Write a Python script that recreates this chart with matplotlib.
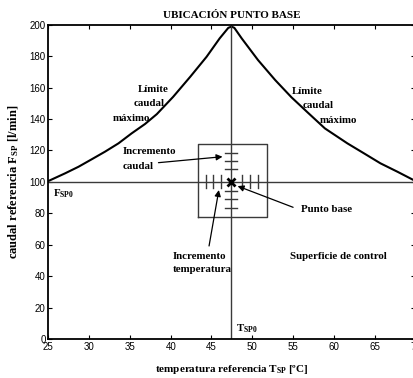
import matplotlib
matplotlib.use("Agg")
import matplotlib.pyplot as plt

plt.rcParams['mathtext.fontset'] = 'custom'
plt.rcParams['mathtext.rm'] = 'Liberation Serif:bold'
plt.rcParams['mathtext.bf'] = 'Liberation Serif:bold'
plt.rcParams['mathtext.it'] = 'Liberation Serif:bold'

# Data
curve_x = [25.0, 27.05, 28.7, 30.3, 31.95, 33.6, 35.2, 36.85, 38.3, 40.3, 42.4, 44.4, 46.0, 47.06,
           47.45,
           47.8, 48.7, 50.7, 52.8, 54.8, 56.9, 58.9, 61.65, 63.7, 65.7, 67.8, 70.0]
curve_y = [100.5, 105.4, 109.6, 114.3, 119.2, 124.5, 130.8, 136.8, 143.1, 154.1, 166.9, 179.6, 191.3, 198.0,
           198.8,
           198.0, 191.3, 177.5, 164.8, 153.8, 143.6, 134.0, 124.5, 118.1, 111.8, 106.4, 100.5]
base_T = 47.4
base_F = 100.0
box_x = [43.3, 51.8]
box_y = [77.4, 123.9]
temp_steps = [-3.1, -2.2, -1.25, 1.3, 2.3, 3.3]
flow_steps = [18.1, 13.2, 7.9, -5.7, -11.1, -16.5]
x_ticks = [25, 30, 35, 40, 45, 50, 55, 60, 65, 70]
y_ticks = [0, 20, 40, 60, 80, 100, 120, 140, 160, 180, 200]

W, H = 414, 378
fig = plt.figure(figsize=(W / 100, H / 100), dpi=100)
left, right, top, bottom = 48.3, 415.5, 24.7, 339.0
ax = fig.add_axes([left / W, 1 - bottom / H, (right - left) / W, (bottom - top) / H])

serif = 'Liberation Serif'
tfs = 7.8

ax.plot(curve_x, curve_y, color='black', lw=1.5, solid_joinstyle='round')

gray = '#3a3a3a'
ax.plot([25, 70], [base_F, base_F], color=gray, lw=1.0)
ax.plot([base_T, base_T], [0, 200], color=gray, lw=1.0)
ax.plot([box_x[0], box_x[1], box_x[1], box_x[0], box_x[0]],
        [box_y[0], box_y[0], box_y[1], box_y[1], box_y[0]], color=gray, lw=1.0)
for d in temp_steps:
    ax.plot([base_T + d, base_T + d], [base_F - 4.2, base_F + 4.2], color=gray, lw=1.0)
for d in flow_steps:
    ax.plot([base_T - 0.7, base_T + 0.7], [base_F + d, base_F + d], color=gray, lw=1.0)
ax.plot([base_T], [base_F], marker='x', color='black', ms=6, mew=2.0)

ax.set_xlim(25, 70)
ax.set_ylim(0, 200)
ax.set_xticks(x_ticks)
ax.set_yticks(y_ticks)
ax.tick_params(direction='in', length=3, width=0.8, top=True, right=True,
               labelsize=7, pad=2, colors='black')
for lab in ax.get_xticklabels() + ax.get_yticklabels():
    lab.set_fontfamily('Liberation Sans')
for s in ax.spines.values():
    s.set_linewidth(1.3)

ax.set_title('UBICACIÓN PUNTO BASE', fontfamily=serif, fontweight='bold', fontsize=8, pad=5)
ax.set_xlabel(r'temperatura referencia T$_{\mathrm{SP}}$ [ºC]', fontfamily=serif,
              fontweight='bold', fontsize=8, labelpad=8)
ax.set_ylabel(r'caudal referencia F$_{\mathrm{SP}}$ [l/min]', fontfamily=serif,
              fontweight='bold', fontsize=9, labelpad=6)

tk = dict(fontfamily=serif, fontweight='bold', fontsize=tfs, ha='center', va='center')
ax.text(37.9, 158.8, 'Límite', **tk)
ax.text(37.3, 150.0, 'caudal', **tk)
ax.text(35.2, 140.0, 'máximo', **tk)
ax.text(56.7, 157.8, 'Límite', **tk)
ax.text(58.05, 148.4, 'caudal', **tk)
ax.text(60.6, 139.0, 'máximo', **tk)

tl = dict(fontfamily=serif, fontweight='bold', fontsize=tfs, ha='left', va='center')
ax.text(34.15, 119.0, 'Incremento', **tl)
ax.text(34.15, 109.6, 'caudal', **tl)
ax.text(56.0, 82.5, 'Punto base', **tl)
ax.text(40.3, 52.8, 'Incremento', **tl)
ax.text(40.3, 44.5, 'temperatura', **tl)
ax.text(54.6, 52.8, 'Superficie de control', **tl)
ax.text(48.0, 6.5, r'T$_{\mathrm{SP0}}$', **tl)
ax.text(25.6, 92.5, r'F$_{\mathrm{SP0}}$', **tl)

ap = dict(arrowstyle='-|>', color='black', lw=0.9, mutation_scale=9, shrinkA=0, shrinkB=0)
ax.annotate('', xy=(46.35, 116.0), xytext=(38.5, 112.2), arrowprops=ap)
ax.annotate('', xy=(48.2, 97.3), xytext=(55.0, 83.8), arrowprops=ap)
ax.annotate('', xy=(45.9, 94.8), xytext=(44.7, 59.2), arrowprops=ap)

fig.savefig('out.png', dpi=100)
